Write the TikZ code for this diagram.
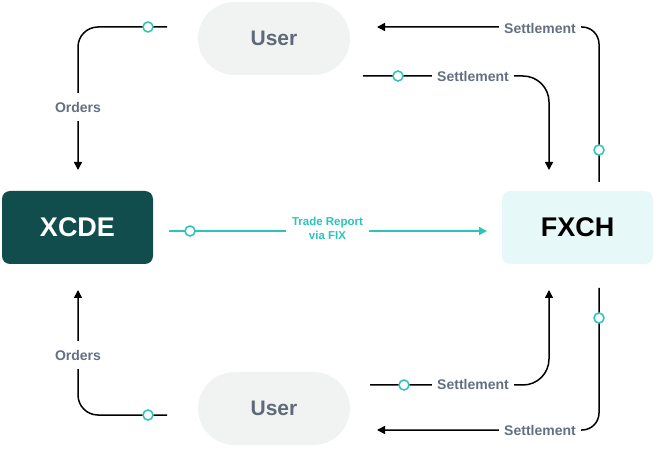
\documentclass[tikz,border=0pt]{standalone}
\usepackage{fontspec}
\setmainfont{Liberation Sans}
\usetikzlibrary{arrows.meta}
\definecolor{lblgrey}{RGB}{100,112,130}
\definecolor{usergrey}{RGB}{94,106,121}
\definecolor{userfill}{RGB}{241,243,243}
\definecolor{darkteal}{RGB}{18,77,78}
\definecolor{lightcyan}{RGB}{230,248,248}
\definecolor{teal}{RGB}{43,196,187}
\tikzset{
  userbox/.style={rounded corners=36.5pt, fill=userfill, minimum width=152pt, minimum height=73pt, inner sep=0pt, text=usergrey, font=\fontsize{21}{24}\selectfont\bfseries},
  sysbox/.style={rounded corners=8pt, minimum width=151pt, minimum height=73pt, inner sep=0pt, font=\fontsize{27}{30}\selectfont\bfseries},
  conn/.style={draw=black, line width=1.5pt},
  tip/.style={-{Triangle[length=8pt,width=8pt]}},
  lbl/.style={fill=white, text=lblgrey, inner xsep=5pt, inner ysep=8pt, font=\fontsize{14}{16}\selectfont\bfseries},
  dotc/.style={circle, draw=teal, fill=white, line width=1.5pt, minimum size=10pt, inner sep=0pt},
}
\begin{document}
\begin{tikzpicture}[x=1pt,y=-1pt]
\useasboundingbox (0,0) rectangle (654,449);
% nodes
\node[userbox] (user1) at (274,38.5) {User};
\node[userbox] (user2) at (274,408.5) {User};
\node[sysbox, fill=darkteal, text=white] (xcde) at (77.5,227.5) {XCDE};
\node[sysbox, fill=lightcyan, text=black] (fxch) at (577.5,227.5) {FXCH};
% free ends
\coordinate (o1a) at (167,27);   \coordinate (o1b) at (78,170);
\coordinate (o2a) at (167,415);  \coordinate (o2b) at (78,290);
\coordinate (tra) at (169,231);  \coordinate (trb) at (487,231);
\coordinate (s1a) at (599,182);  \coordinate (s1b) at (377,27);
\coordinate (s2a) at (363,76);   \coordinate (s2b) at (549,170);
\coordinate (s3a) at (370,385);  \coordinate (s3b) at (549,290);
\coordinate (s4a) at (599,288);  \coordinate (s4b) at (377,430);
% connectors
\draw[conn, tip, rounded corners=20pt] (o1a) -| (o1b);
\draw[conn, tip, rounded corners=20pt] (o2a) -| (o2b);
\draw[draw=teal, line width=1.5pt, -{Triangle[length=8pt,width=8pt]}, teal] (tra) -- (trb);
\draw[conn, tip, rounded corners=17pt] (s1a) |- (s1b);
\draw[conn, tip, rounded corners=26pt] (s2a) -| (s2b);
\draw[conn, tip, rounded corners=26pt] (s3a) -| (s3b);
\draw[conn, tip, rounded corners=17pt] (s4a) |- (s4b);
% labels
\node[lbl, inner ysep=9pt] (l1) at (78,107) {Orders};
\node[lbl, inner ysep=9pt] (l2) at (78,355) {Orders};
\node[fill=white, text=teal, align=center, inner xsep=6pt, inner ysep=2pt, font=\fontsize{11.5}{14}\selectfont\bfseries] (ltr) at (327.5,228) {Trade Report\\via FIX};
\node[lbl] (l3) at (540,28) {Settlement};
\node[lbl] (l4) at (473,76) {Settlement};
\node[lbl] (l5) at (473,384) {Settlement};
\node[lbl] (l6) at (540,430) {Settlement};
% dots
\node[dotc] (d1) at (148,27) {};
\node[dotc] (d2) at (148,415) {};
\node[dotc] (d3) at (190,231) {};
\node[dotc] (d4) at (599,150) {};
\node[dotc] (d5) at (398,76) {};
\node[dotc] (d6) at (404,385) {};
\node[dotc] (d7) at (599,318) {};
\end{tikzpicture}
\end{document}
